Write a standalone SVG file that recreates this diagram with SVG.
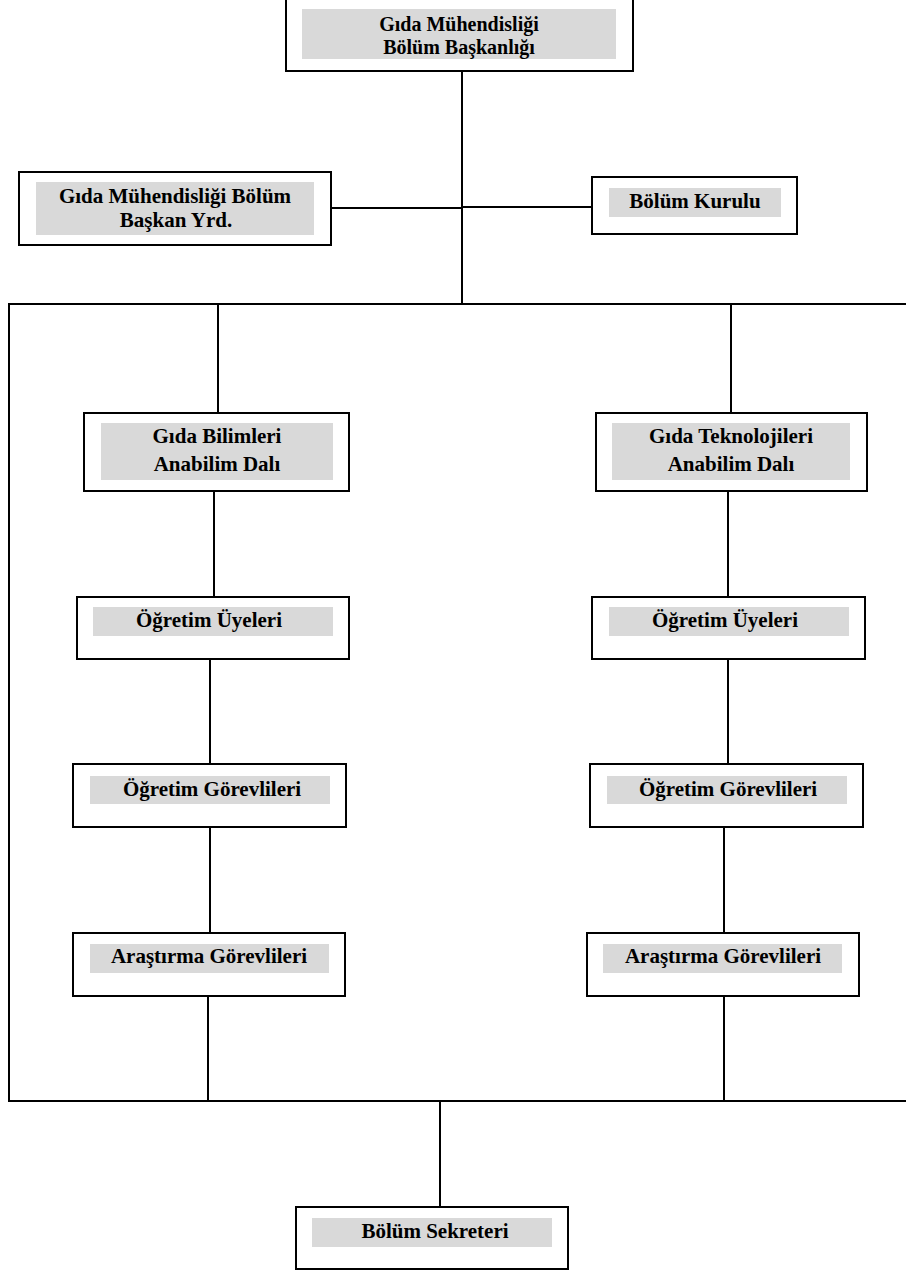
<svg xmlns="http://www.w3.org/2000/svg" width="906" height="1270" viewBox="0 0 906 1270">
<style>
.box{fill:#ffffff;stroke:#000000;stroke-width:2}
.band{fill:#d9d9d9;stroke:none}
.lbl{font-family:"Liberation Serif","Times New Roman",serif;font-weight:bold;font-size:21px;fill:#000000;text-anchor:middle}
.tight{font-size:20px}
.conn line{stroke:#000000;stroke-width:2}
</style>
<rect x="0" y="0" width="906" height="1270" fill="#ffffff"/>
<g id="connectors" class="conn">
<line x1="462" y1="71" x2="462" y2="305"/>
<line x1="331" y1="208" x2="462" y2="208"/>
<line x1="462" y1="207" x2="592" y2="207"/>
<line x1="8" y1="304" x2="906" y2="304"/>
<line x1="9" y1="303" x2="9" y2="1102"/>
<line x1="8" y1="1101" x2="906" y2="1101"/>
<line x1="218" y1="304" x2="218" y2="413"/>
<line x1="731" y1="304" x2="731" y2="413"/>
<line x1="214" y1="491" x2="214" y2="597"/>
<line x1="728" y1="491" x2="728" y2="597"/>
<line x1="210" y1="659" x2="210" y2="764"/>
<line x1="728" y1="659" x2="728" y2="764"/>
<line x1="210" y1="827" x2="210" y2="933"/>
<line x1="724" y1="827" x2="724" y2="933"/>
<line x1="208" y1="996" x2="208" y2="1101"/>
<line x1="724" y1="996" x2="724" y2="1101"/>
<line x1="440" y1="1101" x2="440" y2="1207"/>
</g>
<g id="baskanlik">
<rect class="box" x="286" y="-5" width="347" height="76"/>
<rect class="band" x="302" y="9" width="314" height="50"/>
<text class="lbl tight" x="459" y="31">Gıda Mühendisliği</text>
<text class="lbl tight" x="459" y="53.5">Bölüm Başkanlığı</text>
</g>
<g id="baskan-yrd">
<rect class="box" x="19" y="172" width="312" height="73"/>
<rect class="band" x="36" y="182" width="278" height="53"/>
<text class="lbl" x="175" y="203">Gıda Mühendisliği Bölüm</text>
<text class="lbl" x="176" y="227">Başkan Yrd.</text>
</g>
<g id="bolum-kurulu">
<rect class="box" x="592" y="177" width="205" height="57"/>
<rect class="band" x="609" y="188" width="172" height="29"/>
<text class="lbl" x="695" y="208">Bölüm Kurulu</text>
</g>
<g id="gida-bilimleri">
<rect class="box" x="84" y="413" width="265" height="78"/>
<rect class="band" x="101" y="423" width="232" height="57"/>
<text class="lbl" x="217" y="443">Gıda Bilimleri</text>
<text class="lbl" x="217" y="471">Anabilim Dalı</text>
</g>
<g id="gida-teknolojileri">
<rect class="box" x="596" y="413" width="271" height="78"/>
<rect class="band" x="612" y="423" width="238" height="57"/>
<text class="lbl" x="731" y="443">Gıda Teknolojileri</text>
<text class="lbl" x="731" y="471">Anabilim Dalı</text>
</g>
<g id="ogretim-uyeleri-1">
<rect class="box" x="77" y="597" width="272" height="62"/>
<rect class="band" x="93" y="607" width="240" height="29"/>
<text class="lbl" x="209" y="627">Öğretim Üyeleri</text>
</g>
<g id="ogretim-uyeleri-2">
<rect class="box" x="592" y="597" width="273" height="62"/>
<rect class="band" x="609" y="607" width="240" height="29"/>
<text class="lbl" x="725" y="627">Öğretim Üyeleri</text>
</g>
<g id="ogretim-gorevlileri-1">
<rect class="box" x="73" y="764" width="273" height="63"/>
<rect class="band" x="90" y="776" width="240" height="28"/>
<text class="lbl" x="212" y="796">Öğretim Görevlileri</text>
</g>
<g id="ogretim-gorevlileri-2">
<rect class="box" x="590" y="764" width="273" height="63"/>
<rect class="band" x="607" y="776" width="240" height="28"/>
<text class="lbl" x="728" y="796">Öğretim Görevlileri</text>
</g>
<g id="arastirma-gorevlileri-1">
<rect class="box" x="73" y="933" width="272" height="63"/>
<rect class="band" x="90" y="944" width="239" height="29"/>
<text class="lbl" x="209" y="963">Araştırma Görevlileri</text>
</g>
<g id="arastirma-gorevlileri-2">
<rect class="box" x="587" y="933" width="272" height="63"/>
<rect class="band" x="603" y="944" width="239" height="29"/>
<text class="lbl" x="723" y="963">Araştırma Görevlileri</text>
</g>
<g id="bolum-sekreteri">
<rect class="box" x="296" y="1207" width="272" height="62"/>
<rect class="band" x="312" y="1218" width="240" height="29"/>
<text class="lbl" x="435" y="1238">Bölüm Sekreteri</text>
</g>
</svg>
